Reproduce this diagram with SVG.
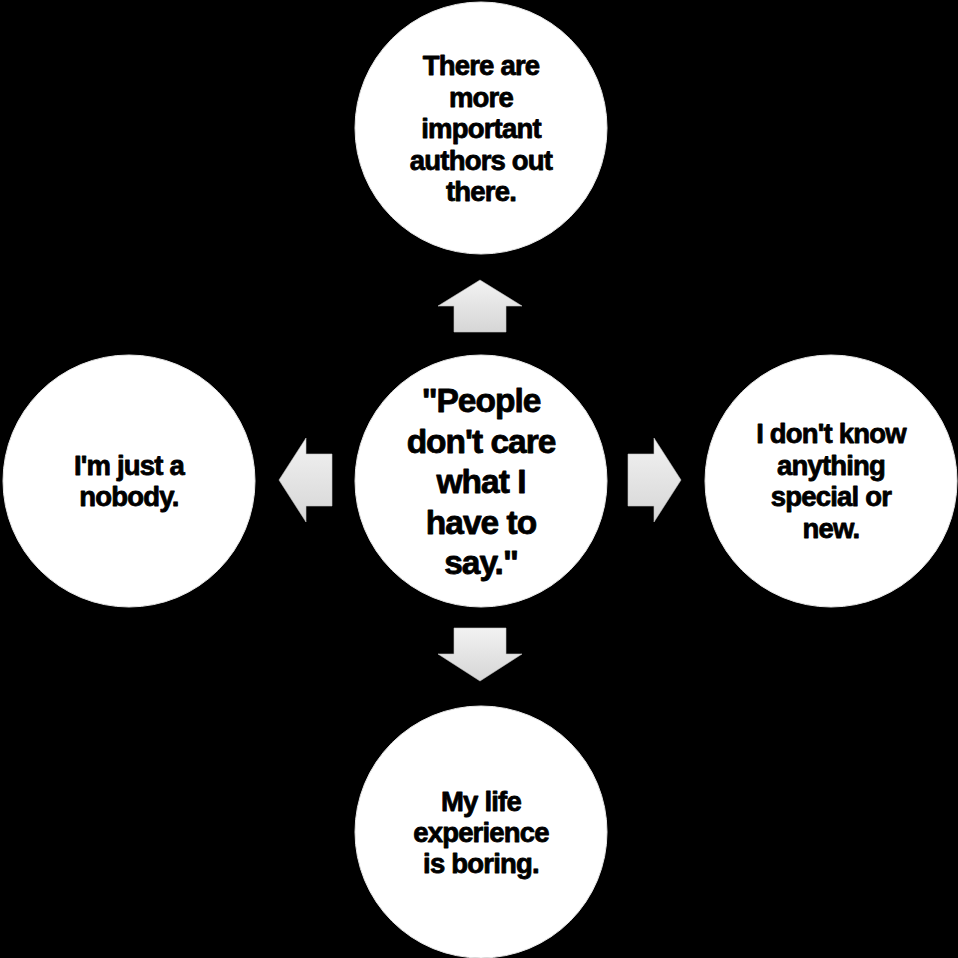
<svg xmlns="http://www.w3.org/2000/svg" width="958" height="958" viewBox="0 0 958 958">
<defs>
<linearGradient id="ag" x1="0" y1="0" x2="0" y2="1">
<stop offset="0" stop-color="#f2f2f2"/>
<stop offset="1" stop-color="#d6d6d6"/>
</linearGradient>
<style>
.c{fill:#ffffff;stroke:#e6e6e6;stroke-width:1}
.a{fill:url(#ag);stroke:#c4c4c4;stroke-width:0.6}
text{font-family:"Liberation Sans",Arial,sans-serif;font-weight:bold;fill:#000;stroke:#000;stroke-width:0.8;stroke-linejoin:round;text-anchor:middle}
.s{font-size:27.5px;letter-spacing:-0.8px}
.m{font-size:33.5px;letter-spacing:-1px}
</style>
</defs>
<rect x="0" y="0" width="958" height="958" fill="#000"/>
<g id="connectors">
<polygon class="a" points="480,280 522,306 506,306 506,332 454,332 454,306 438,306"/>
<polygon class="a" points="480,681 522,654 506,654 506,628 454,628 454,654 438,654"/>
<polygon class="a" points="279,480 306,438 306,454 332,454 332,506 306,506 306,522"/>
<polygon class="a" points="681,480 654,438 654,454 628,454 628,506 654,506 654,522"/>
</g>
<g id="center">
<circle class="c" cx="481" cy="481" r="126"/>
<text class="m"><tspan x="481" y="412">"People</tspan><tspan x="481" y="452.5">don't care</tspan><tspan x="481" y="493">what I</tspan><tspan x="481" y="533.5">have to</tspan><tspan x="481" y="574">say."</tspan></text>
</g>
<g id="top">
<circle class="c" cx="481" cy="128" r="126"/>
<text class="s"><tspan x="481" y="75">There are</tspan><tspan x="481" y="107">more</tspan><tspan x="481" y="138">important</tspan><tspan x="481" y="170">authors out</tspan><tspan x="481" y="201">there.</tspan></text>
</g>
<g id="left">
<circle class="c" cx="129" cy="481" r="126"/>
<text class="s"><tspan x="129" y="475">I'm just a</tspan><tspan x="129" y="506">nobody.</tspan></text>
</g>
<g id="right">
<circle class="c" cx="831" cy="481" r="126"/>
<text class="s"><tspan x="831" y="443">I don't know</tspan><tspan x="831" y="474.5">anything</tspan><tspan x="831" y="506">special or</tspan><tspan x="831" y="537.5">new.</tspan></text>
</g>
<g id="bottom">
<circle class="c" cx="481" cy="832" r="126"/>
<text class="s"><tspan x="481" y="811">My life</tspan><tspan x="481" y="842">experience</tspan><tspan x="481" y="873">is boring.</tspan></text>
</g>
</svg>
